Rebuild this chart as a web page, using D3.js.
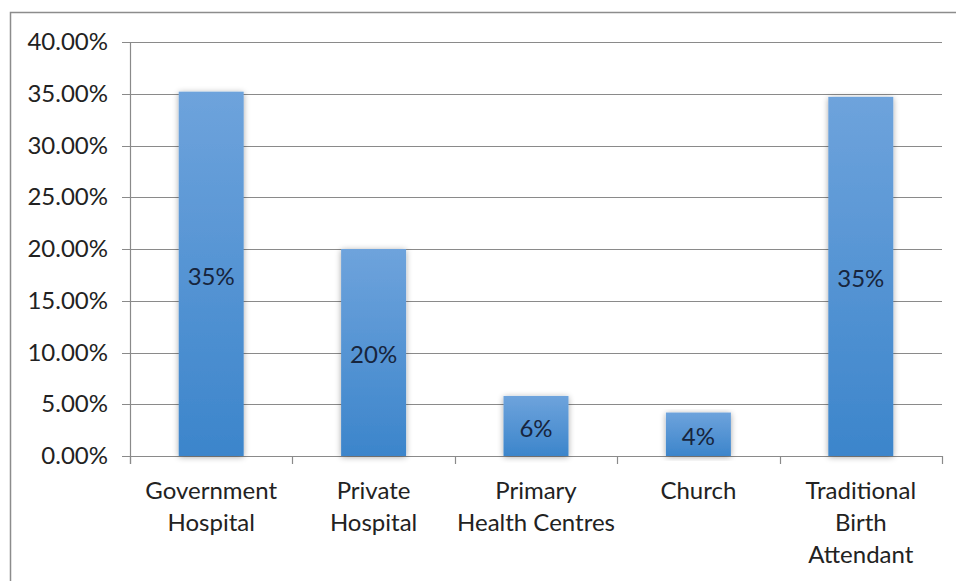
<!DOCTYPE html>
<html>
<head>
<meta charset="utf-8">
<script src="https://cdn.jsdelivr.net/npm/d3@7"></script>
<style>
  html, body { margin: 0; padding: 0; background: #fff; }
  svg { display: block; }
  text { font-family: Lato, "Open Sans", "Liberation Sans", sans-serif; }
</style>
</head>
<body>
<svg id="chart" width="956" height="581"></svg>
<script>
// Place of delivery — share of respondents
const categories = [
  ["Government", "Hospital"],
  ["Private", "Hospital"],
  ["Primary", "Health Centres"],
  ["Church"],
  ["Traditional", "Birth", "Attendant"]
];
const shares = [0.352, 0.200, 0.058, 0.042, 0.347];
const yTicks = [0, 0.05, 0.10, 0.15, 0.20, 0.25, 0.30, 0.35, 0.40];

const W = 956, H = 581;
const margin = { top: 42, right: 14, bottom: 125, left: 130 };
const svg = d3.select("#chart");

// outer frame (left and top edges fall inside the window)
svg.append("rect")
  .attr("x", 10.5).attr("y", 12.5)
  .attr("width", 960).attr("height", 600)
  .attr("fill", "none").attr("stroke", "#8c8c8c").attr("stroke-width", 1.5);

const defs = svg.append("defs");
const grad = defs.append("linearGradient")
  .attr("id", "barFill").attr("x1", 0).attr("y1", 0).attr("x2", 0).attr("y2", 1);
grad.append("stop").attr("offset", "0%").attr("stop-color", "#6ea3dc");
grad.append("stop").attr("offset", "100%").attr("stop-color", "#3c85cb");

const shadow = defs.append("filter").attr("id", "barShadow")
  .attr("x", "-30%").attr("y", "-10%").attr("width", "160%").attr("height", "120%");
shadow.append("feGaussianBlur").attr("in", "SourceAlpha").attr("stdDeviation", 3).attr("result", "b");
shadow.append("feOffset").attr("in", "b").attr("dx", 0).attr("dy", 1).attr("result", "o");
shadow.append("feComponentTransfer").attr("in", "o").attr("result", "s")
  .append("feFuncA").attr("type", "linear").attr("slope", 0.35);
const merge = shadow.append("feMerge");
merge.append("feMergeNode").attr("in", "s");
merge.append("feMergeNode").attr("in", "SourceGraphic");

const x = d3.scaleBand()
  .domain(d3.range(categories.length))
  .range([margin.left, W - margin.right])
  .paddingInner(0.6).paddingOuter(0.3);

const y = d3.scaleLinear()
  .domain([0, 0.40])
  .range([H - margin.bottom, margin.top]);

// horizontal gridlines
svg.append("g")
  .selectAll("line")
  .data(yTicks)
  .join("line")
  .attr("x1", margin.left - 8).attr("x2", W - margin.right)
  .attr("y1", d => Math.round(y(d)) + 0.5).attr("y2", d => Math.round(y(d)) + 0.5)
  .attr("stroke", "#8a8a8a").attr("stroke-width", 1.2);

// y axis labels
const yAxis = d3.axisLeft(y).tickValues(yTicks).tickFormat(d3.format(".2%")).tickSize(0).tickPadding(22);
const gy = svg.append("g").attr("transform", `translate(${margin.left},0)`).call(yAxis);
gy.select(".domain").remove();
gy.selectAll("text").attr("font-size", 24).attr("fill", "#222")
  .style("font-family", "Lato, 'Open Sans', sans-serif");

// y axis line
svg.append("line")
  .attr("x1", margin.left + 0.5).attr("x2", margin.left + 0.5)
  .attr("y1", y(0.40)).attr("y2", y(0) + 8)
  .attr("stroke", "#8a8a8a").attr("stroke-width", 1.2);

// category ticks at band boundaries
const bounds = d3.range(categories.length + 1).map(i => margin.left + i * (W - margin.right - margin.left) / categories.length);
svg.append("g").selectAll("line").data(bounds).join("line")
  .attr("x1", d => Math.round(d) + 0.5).attr("x2", d => Math.round(d) + 0.5)
  .attr("y1", y(0)).attr("y2", y(0) + 8)
  .attr("stroke", "#8a8a8a").attr("stroke-width", 1.2);

// bars
svg.append("g").selectAll("rect")
  .data(shares)
  .join("rect")
  .attr("x", (d, i) => x(i))
  .attr("y", d => y(d))
  .attr("width", x.bandwidth())
  .attr("height", d => y(0) - y(d))
  .attr("fill", "url(#barFill)")
  .attr("filter", "url(#barShadow)");

// value labels, centred in each bar
svg.append("g").selectAll("text")
  .data(shares)
  .join("text")
  .attr("x", (d, i) => x(i) + x.bandwidth() / 2)
  .attr("y", d => (y(d) + y(0)) / 2)
  .attr("dy", "0.45em")
  .attr("text-anchor", "middle")
  .attr("font-size", 24)
  .attr("fill", "#17253d")
  .text(d => d3.format(".0%")(d));

// category labels
const cat = svg.append("g").selectAll("text")
  .data(categories)
  .join("text")
  .attr("x", (d, i) => x(i) + x.bandwidth() / 2)
  .attr("y", y(0) + 43)
  .attr("text-anchor", "middle")
  .attr("font-size", 24)
  .attr("fill", "#222");
cat.selectAll("tspan")
  .data(d => d)
  .join("tspan")
  .attr("x", function () { return d3.select(this.parentNode).attr("x"); })
  .attr("dy", (d, i) => i === 0 ? 0 : 32)
  .text(d => d);
</script>
</body>
</html>
